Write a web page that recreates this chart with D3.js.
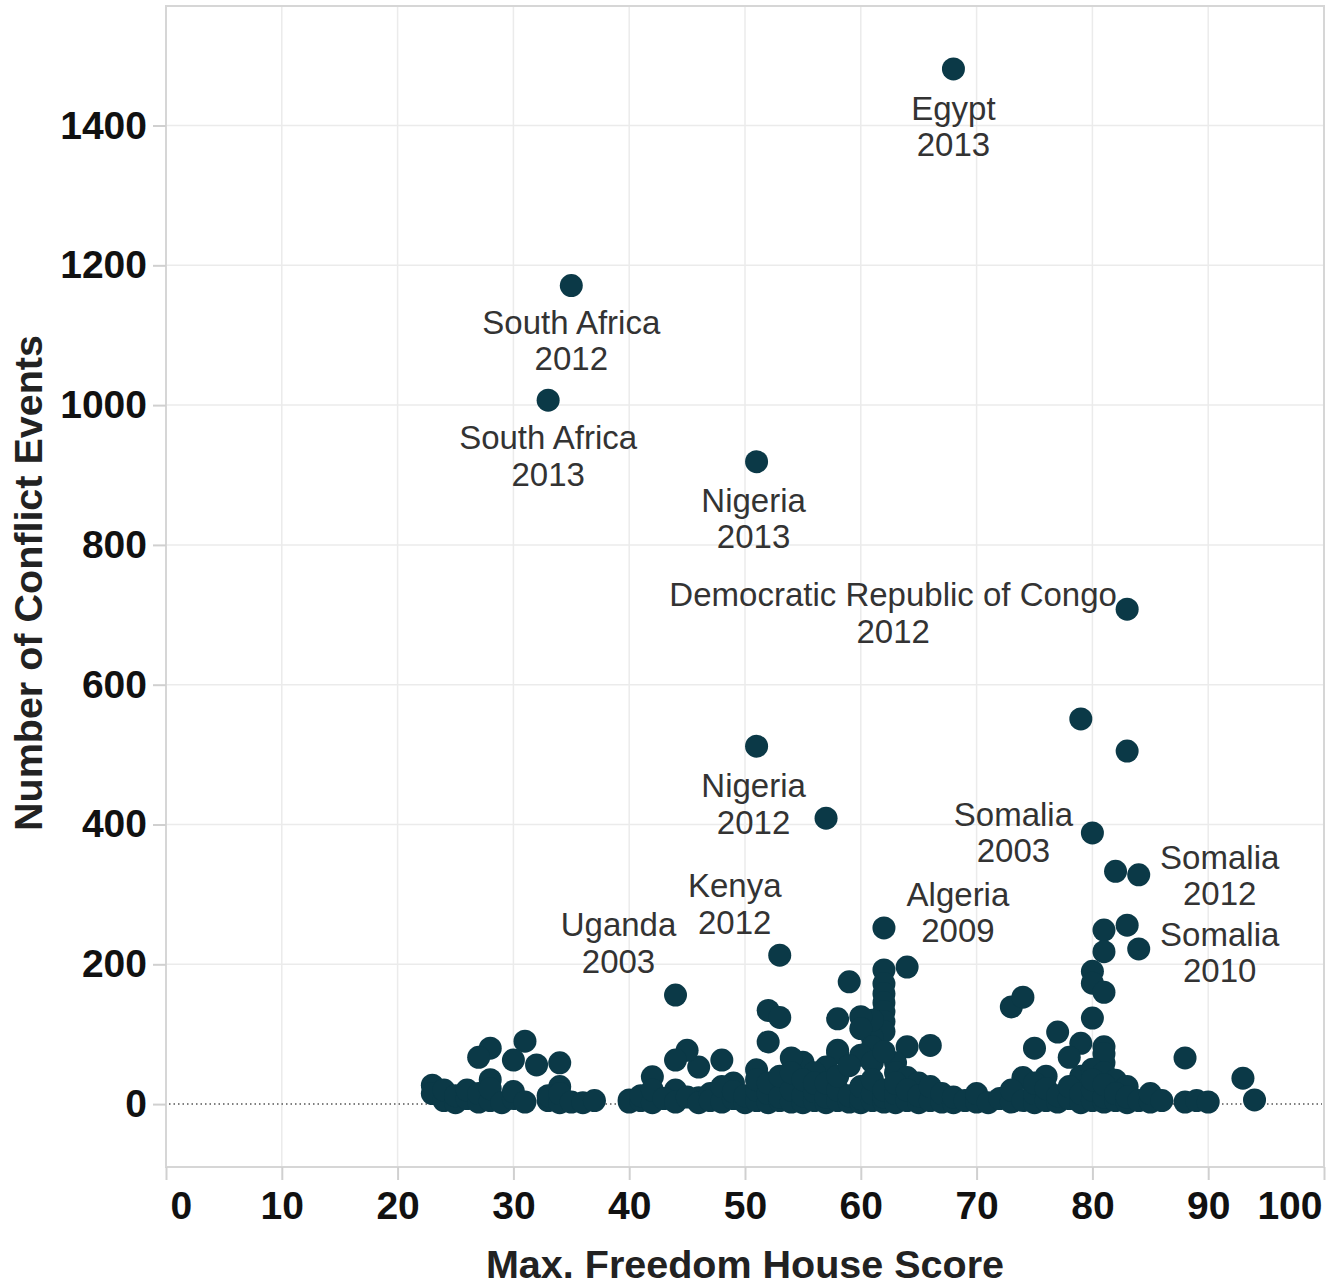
<!DOCTYPE html>
<html>
<head>
<meta charset="utf-8">
<script src="https://cdn.jsdelivr.net/npm/d3@7"></script>
<style>
  html, body { margin: 0; padding: 0; background: #fff; }
  svg { display: block; }
</style>
</head>
<body>
<svg id="chart" width="1334" height="1286"></svg>
<script>
// ---------- DATA ----------
const freedomScore = [
  68,35,33,51,83,79,83,51,57,80,82,84,81,83,84,81,53,62,44,
  64,62,59,62,62,62,62,62,62,61,61,60,60,58,61,64,66,63,73,74,
  80,80,81,80,77,75,79,81,78,81,81,88,93,94,52,53,52,58,58,57,
  55,54,51,49,48,46,45,44,44,42,40,46,28,27,31,30,32,34,28,23,34,
  56,60,61,62,63,64,65,74,76,79,80,81,82,83,
  23,24,24,25,25,26,26,27,27,28,28,29,30,30,31,33,33,34,34,35,36,37,
  40,41,41,42,42,43,44,45,46,47,47,48,48,49,49,50,50,
  51,51,51,52,52,52,53,53,53,54,54,54,55,55,55,56,56,56,57,57,57,
  58,58,58,59,59,59,60,60,60,61,61,61,62,62,62,63,63,63,64,64,65,65,
  66,66,67,67,68,68,69,70,70,71,72,73,73,74,75,75,75,76,76,77,77,
  78,78,79,79,80,80,80,81,81,81,82,82,83,83,84,85,85,86,88,89,90
];
const conflictEvents = [
  1481,1171,1007,919,708,551,505,512,409,388,333,328,249,256,222,218,213,252,156,
  196,192,175,172,158,145,132,118,104,95,120,125,108,122,82,82,84,59,139,153,
  190,173,160,123,103,80,87,82,67,59,72,66,37,6,134,124,89,77,73,53,
  60,66,49,30,63,53,77,63,20,39,6,9,80,67,90,63,56,59,35,27,25,
  45,70,60,75,45,38,30,38,40,40,50,45,34,25,
  15,5,20,2,12,8,20,3,15,5,22,2,8,18,3,5,12,2,15,3,2,5,
  3,5,12,2,20,8,3,10,2,15,5,3,25,8,18,2,12,
  5,20,35,2,15,30,5,10,40,3,20,45,2,12,35,5,18,30,2,10,30,
  5,20,40,3,12,55,2,8,25,5,15,35,3,10,20,2,15,30,5,20,2,12,
  5,25,3,15,2,10,5,3,15,2,8,3,20,5,2,15,30,5,22,3,12,
  8,25,2,15,5,20,35,3,10,28,5,15,2,10,5,3,15,5,3,5,3
];
const xTicks = [0,10,20,30,40,50,60,70,80,90,100];
const yTicks = [0,200,400,600,800,1000,1200,1400];
const labelCountry = ["Egypt","South Africa","South Africa","Nigeria","Democratic Republic of Congo","Nigeria","Somalia","Somalia","Somalia","Kenya","Algeria","Uganda"];
const labelYear    = ["2013","2012","2013","2013","2012","2012","2003","2012","2010","2012","2009","2003"];
const labelScore   = [68,35,33,51,83,51,80,84,84,53,62,44];
const labelEvents  = [1481,1171,1007,919,708,512,388,328,222,213,252,156];

// ---------- LAYOUT / STYLE ----------
const labelOffset = [
  [0,51],[0,48],[0,49],[-3,50],[-234,-3],[-3,51],[-79,-7],[81,-6],[81,-3],[-45,-58],[74,-22],[-57,-59]
];
const plot = {left:166, right:1324, top:6, bottom:1167};
const dotColor = "#0b3947";
const font = "Liberation Sans, Arial, sans-serif";

const svg = d3.select("#chart");
const x = d3.scaleLinear().domain([0,100]).range([plot.left, plot.right]);
const y = d3.scaleLinear().domain([-90,1571]).range([plot.bottom, plot.top]);

// gridlines
const grid = svg.append("g");
grid.selectAll("line.vx").data(xTicks.slice(1,-1)).join("line")
  .attr("x1", d=>x(d)).attr("x2", d=>x(d))
  .attr("y1", plot.top).attr("y2", plot.bottom)
  .attr("stroke", "#ebebeb").attr("stroke-width", 1.5);
grid.selectAll("line.hy").data(yTicks.filter(d=>d!==0)).join("line")
  .attr("x1", plot.left).attr("x2", plot.right)
  .attr("y1", d=>y(d)).attr("y2", d=>y(d))
  .attr("stroke", "#ebebeb").attr("stroke-width", 1.5);

// frame
svg.append("rect")
  .attr("x", plot.left).attr("y", plot.top)
  .attr("width", plot.right-plot.left).attr("height", plot.bottom-plot.top)
  .attr("fill", "none").attr("stroke", "#d6d6d6").attr("stroke-width", 2);

// zero line
svg.append("line")
  .attr("x1", plot.left+3).attr("x2", plot.right-2)
  .attr("y1", y(0)).attr("y2", y(0))
  .attr("stroke", "#555").attr("stroke-width", 1.5)
  .attr("stroke-dasharray", "1.5,3");

// axes
const xAxis = d3.axisBottom(x).tickValues(xTicks).tickSize(13).tickPadding(11).tickFormat(d3.format("d"));
const gx = svg.append("g").attr("transform", `translate(0,${plot.bottom})`).call(xAxis);
gx.select(".domain").remove();
gx.selectAll(".tick line").attr("stroke", "#d0d0d0").attr("stroke-width", 2);
gx.selectAll(".tick text")
  .attr("font-family", font)
  .attr("font-weight", "bold").attr("font-size", 39).attr("fill", "#111")
  .attr("text-anchor", d => d===0 ? "start" : (d===100 ? "end" : "middle"))
  .attr("dx", d => d===0 ? 4 : (d===100 ? -2 : 0));

const yAxis = d3.axisLeft(y).tickValues(yTicks).tickSize(13).tickPadding(6).tickFormat(d3.format("d"));
const gy = svg.append("g").attr("transform", `translate(${plot.left},0)`).call(yAxis);
gy.select(".domain").remove();
gy.selectAll(".tick line").attr("stroke", "#d0d0d0").attr("stroke-width", 2);
gy.selectAll(".tick text")
  .attr("font-family", font)
  .attr("font-weight", "bold").attr("font-size", 39).attr("fill", "#111");

// axis titles
svg.append("text")
  .attr("x", 745).attr("y", 1278)
  .attr("text-anchor", "middle")
  .attr("font-family", font)
  .attr("font-weight", "bold").attr("font-size", 39.5).attr("fill", "#222")
  .text("Max. Freedom House Score");
svg.append("text")
  .attr("transform", `translate(42,583) rotate(-90)`)
  .attr("text-anchor", "middle")
  .attr("font-family", font)
  .attr("font-weight", "bold").attr("font-size", 39.5).attr("fill", "#222")
  .text("Number of Conflict Events");

// points
const pts = freedomScore.map((s,i)=>({s, e: conflictEvents[i]}));
svg.append("g").selectAll("circle").data(pts).join("circle")
  .attr("cx", d=>x(d.s)).attr("cy", d=>y(d.e))
  .attr("r", 11.5).attr("fill", dotColor);

// labels
const labels = labelCountry.map((c,i)=>({c, yr: labelYear[i], s: labelScore[i], e: labelEvents[i], off: labelOffset[i]}));
const lg = svg.append("g")
  .attr("font-family", font)
  .attr("font-size", 33).attr("fill", "#333").attr("text-anchor", "middle");
labels.forEach(l => {
  const t = lg.append("text")
    .attr("x", x(l.s) + l.off[0]).attr("y", y(l.e) + l.off[1]);
  t.append("tspan").attr("x", x(l.s) + l.off[0]).text(l.c);
  t.append("tspan").attr("x", x(l.s) + l.off[0]).attr("dy", 36.5).text(l.yr);
});
</script>
</body>
</html>
